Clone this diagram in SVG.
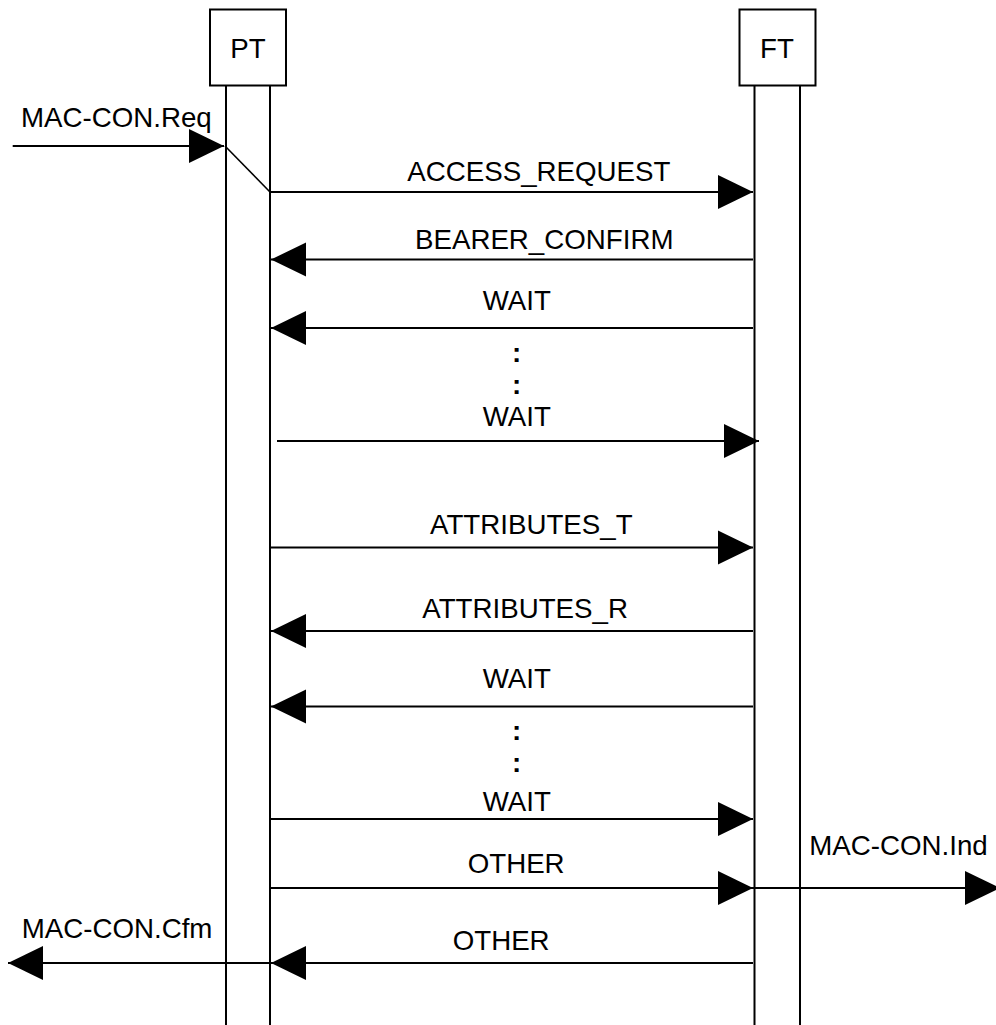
<svg xmlns="http://www.w3.org/2000/svg" width="996" height="1025" viewBox="0 0 996 1025">
<style>
text{font-family:"Liberation Sans",Arial,sans-serif;font-size:27.7px;fill:#000}
.box{fill:#fff;stroke:#000;stroke-width:2}
.life{stroke:#000;stroke-width:2;fill:none}
.msg{stroke:#000;stroke-width:2;fill:none;marker-end:url(#ah)}
.plain{stroke:#000;stroke-width:1.6;fill:none}
.c{text-anchor:middle}
.dots{text-anchor:middle;font-weight:bold}
</style>
<defs>
<marker id="ah" markerUnits="userSpaceOnUse" markerWidth="36" markerHeight="36" refX="35" refY="17" orient="auto" viewBox="0 0 36 34" overflow="visible">
<path d="M0,0 L35,17 L0,34 Z" fill="#000"/>
</marker>
</defs>
<rect width="996" height="1025" fill="#fff"/>
<g id="PT">
<rect class="box" x="210" y="9.5" width="76" height="76"/>
<line class="life" x1="226" y1="86" x2="226" y2="1025"/>
<line class="life" x1="270" y1="86" x2="270" y2="1025"/>
<text class="c" x="248" y="57.5">PT</text>
</g>
<g id="FT">
<rect class="box" x="739.5" y="9.5" width="76" height="76"/>
<line class="life" x1="754.5" y1="86" x2="754.5" y2="1025"/>
<line class="life" x1="800" y1="86" x2="800" y2="1025"/>
<text class="c" x="777" y="58">FT</text>
</g>
<g id="connectors">
<line class="msg" x1="12.7" y1="146" x2="224" y2="146"/>
<line class="plain" x1="225" y1="146" x2="270" y2="192"/>
<line class="msg" x1="270" y1="192" x2="753" y2="192"/>
<line class="msg" x1="753" y1="259.5" x2="271" y2="259.5"/>
<line class="msg" x1="753" y1="328" x2="271" y2="328"/>
<line class="msg" x1="277" y1="441" x2="759" y2="441"/>
<line class="msg" x1="270" y1="547.5" x2="753" y2="547.5"/>
<line class="msg" x1="753" y1="631" x2="271" y2="631"/>
<line class="msg" x1="753" y1="706.5" x2="271" y2="706.5"/>
<line class="msg" x1="270" y1="819" x2="753" y2="819"/>
<line class="msg" x1="270" y1="888" x2="753" y2="888"/>
<line class="msg" x1="753" y1="888" x2="1000" y2="888"/>
<line class="msg" x1="753" y1="963" x2="271" y2="963"/>
<line class="msg" x1="270" y1="963" x2="8" y2="963"/>
</g>
<g id="labels">
<text x="21" y="127">MAC-CON.Req</text>
<text x="407.3" y="180.7">ACCESS_REQUEST</text>
<text x="415" y="249.3">BEARER_CONFIRM</text>
<text x="482.7" y="310">WAIT</text>
<text class="dots" x="516.5" y="362">:</text>
<text class="dots" x="516.5" y="394">:</text>
<text x="482.7" y="425.7">WAIT</text>
<text x="430" y="534.3">ATTRIBUTES_T</text>
<text x="422.3" y="618.3">ATTRIBUTES_R</text>
<text x="482.7" y="688.3">WAIT</text>
<text class="dots" x="516.5" y="740">:</text>
<text class="dots" x="516.5" y="772">:</text>
<text x="482.7" y="811">WAIT</text>
<text x="467.7" y="873.3">OTHER</text>
<text x="809.3" y="855">MAC-CON.Ind</text>
<text x="452.7" y="950">OTHER</text>
<text x="21.7" y="938.3">MAC-CON.Cfm</text>
</g>
</svg>
